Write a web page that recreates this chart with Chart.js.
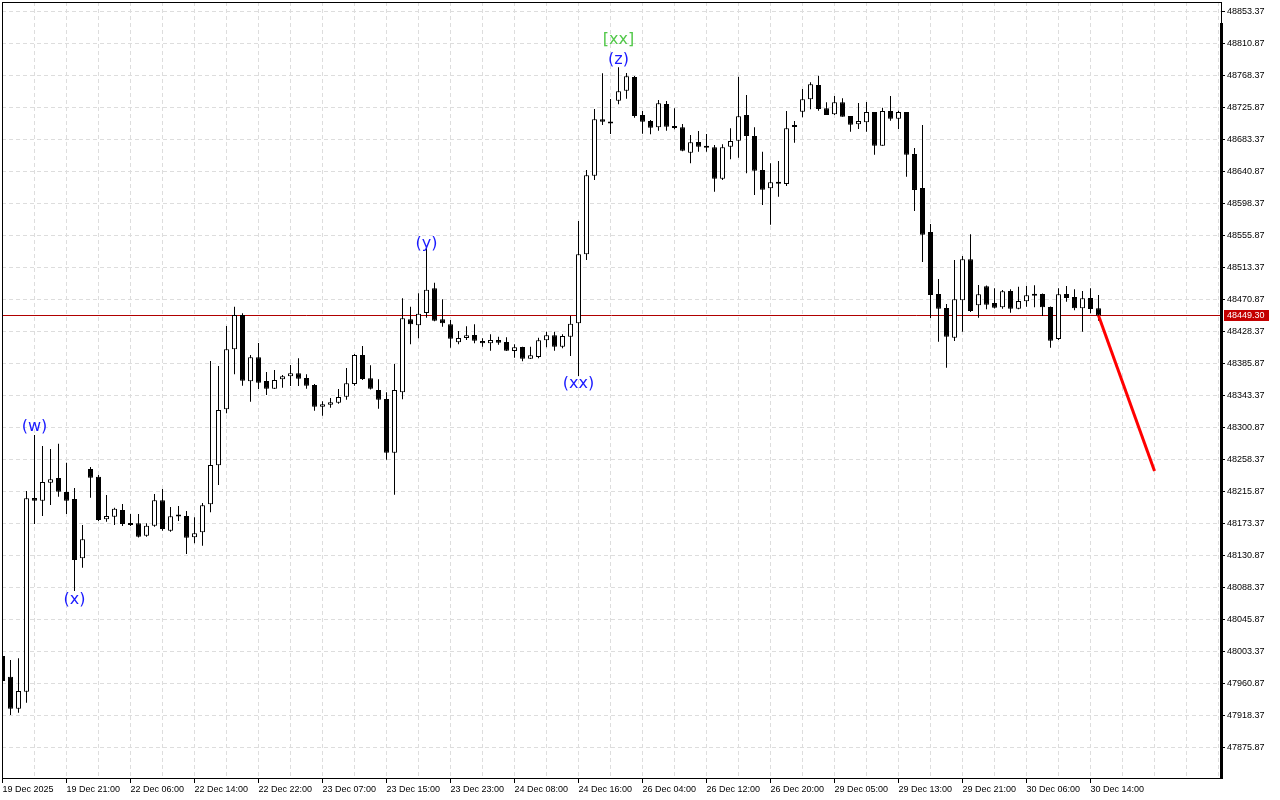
<!DOCTYPE html>
<html>
<head>
<meta charset="utf-8">
<script src="https://cdn.jsdelivr.net/npm/chart.js@4.4.0/dist/chart.umd.min.js"></script>
<style>
html,body{margin:0;padding:0;background:#ffffff;overflow:hidden}
canvas{display:block}
</style>
</head>
<body>
<canvas id="c" width="1280" height="800"></canvas>
<script>
// ---- data ----
const timeLabels = ["19 Dec 2025","19 Dec 21:00","22 Dec 06:00","22 Dec 14:00","22 Dec 22:00","23 Dec 07:00","23 Dec 15:00","23 Dec 23:00","24 Dec 08:00","24 Dec 16:00","26 Dec 04:00","26 Dec 12:00","26 Dec 20:00","29 Dec 05:00","29 Dec 13:00","29 Dec 21:00","30 Dec 06:00","30 Dec 14:00"];

const opens = [47997.2,47969.7,47927.2,47949.7,48207.0,48203.4,48227.3,48233.6,48215.0,48205.7,
48126.9,48245.5,48235.3,48178.7,48182.2,48191.1,48173.4,48173.4,48156.9,48170.2,
48203.9,48163.6,48183.1,48183.1,48154.8,48161.4,48198.6,48250.4,48324.8,48404.5,
48450.0,48362.0,48394.0,48362.4,48352.2,48364.6,48368.6,48372.6,48366.4,48357.1,
48328.3,48330.9,48333.6,48341.5,48358.4,48396.9,48366.0,48350.4,48338.5,48267.2,
48347.4,48444.3,48436.4,48452.7,48485.5,48444.3,48437.7,48413.8,48419.5,48423.5,
48415.5,48412.5,48416.8,48414.2,48402.2,48407.5,48392.0,48394.3,48416.4,48423.1,
48407.9,48421.2,48439.0,48530.7,48635.0,48710.0,48705.0,48734.7,48747.9,48766.1,
48715.7,48707.7,48699.3,48730.3,48701.1,48699.3,48665.6,48679.8,48674.5,48672.8,
48631.1,48673.6,48681.5,48715.7,48687.8,48642.6,48618.3,48624.4,48624.0,48699.7,
48720.0,48736.5,48755.5,48724.6,48716.6,48732.5,48714.3,48703.3,48706.0,48719.6,
48674.9,48721.0,48710.8,48719.6,48663.9,48618.7,48560.3,48477.9,48459.3,48419.9,
48469.6,48524.0,48462.9,48488.2,48466.0,48460.3,48481.9,48458.4,48468.2,48478.3,
48477.9,48460.7,48418.2,48477.9,48473.9,48458.9,48472.6,48458.9];

const highs = [48001.1,47991.8,47994.1,48216.3,48290.7,48276.1,48272.1,48279.1,48253.9,48220.3,
48171.1,48248.2,48237.5,48211.0,48194.1,48199.0,48185.8,48185.8,48173.4,48212.3,
48218.9,48195.0,48196.4,48189.7,48181.4,48200.3,48388.9,48382.3,48435.4,48461.1,
48452.3,48396.9,48412.9,48374.3,48377.0,48370.4,48383.6,48392.5,48371.3,48358.4,
48335.4,48339.8,48351.8,48379.6,48398.2,48408.9,48383.2,48364.6,48347.4,48385.0,
48472.2,48461.1,48478.9,48540.0,48492.9,48470.9,48443.4,48428.8,48435.0,48437.7,
48419.1,48424.4,48421.2,48420.4,48411.1,48407.9,48407.9,48419.9,48427.9,48427.9,
48424.4,48449.1,48574.9,48642.6,48723.6,48771.1,48736.9,48779.0,48771.4,48767.5,
48721.0,48709.0,48735.6,48734.3,48724.6,48703.7,48689.1,48694.4,48690.4,48675.8,
48676.8,48698.0,48766.5,48742.2,48699.3,48666.9,48651.5,48654.6,48721.0,48707.7,
48750.2,48759.1,48767.9,48732.5,48740.9,48737.8,48714.3,48731.6,48732.9,48719.6,
48725.4,48740.9,48721.4,48719.6,48671.8,48702.4,48570.9,48497.9,48464.6,48523.1,
48528.4,48557.2,48489.9,48489.2,48485.5,48483.2,48484.2,48487.6,48488.6,48489.5,
48478.6,48461.3,48485.5,48488.6,48484.2,48481.9,48485.5,48476.6];

const lows = [47960.0,47918.8,47921.8,47935.1,48172.5,48183.1,48197.7,48208.7,48185.8,48083.5,
48114.4,48207.4,48176.5,48175.5,48171.1,48169.8,48169.8,48154.5,48155.6,48168.9,
48163.6,48162.2,48176.5,48132.6,48146.8,48143.6,48188.0,48224.3,48319.5,48371.3,
48356.1,48334.9,48351.8,48343.8,48351.8,48353.5,48355.7,48355.7,48352.2,48322.9,
48316.3,48326.9,48332.2,48337.6,48356.1,48363.7,48351.1,48325.6,48257.9,48211.4,
48338.1,48411.1,48419.1,48446.5,48441.7,48434.5,48406.6,48411.1,48416.8,48412.5,
48407.9,48402.6,48410.6,48402.2,48393.3,48388.6,48391.6,48392.5,48407.1,48402.6,
48405.8,48395.6,48369.0,48523.1,48629.3,48702.4,48690.4,48729.9,48737.3,48712.1,
48690.8,48690.0,48694.8,48694.8,48696.7,48667.5,48651.5,48666.9,48666.9,48613.8,
48629.3,48656.8,48659.0,48638.2,48609.4,48596.1,48570.0,48607.2,48621.4,48678.9,
48712.6,48723.2,48721.4,48715.7,48715.7,48713.4,48693.5,48697.1,48693.5,48662.9,
48674.9,48708.1,48697.1,48633.7,48588.2,48520.4,48446.1,48414.6,48380.1,48415.5,
48427.9,48454.0,48446.5,48457.6,48458.7,48458.4,48453.1,48457.6,48461.1,48460.3,
48448.7,48406.6,48416.8,48467.7,48456.3,48427.9,48452.3,48442.5];

const closes = [47963.9,47927.2,47950.7,48206.6,48203.4,48228.2,48231.8,48215.4,48203.4,48124.6,
48152.1,48234.0,48177.8,48183.1,48192.8,48172.5,48171.1,48155.6,48170.2,48203.9,
48165.8,48182.7,48182.4,48154.3,48160.1,48197.3,48250.8,48323.9,48404.5,48450.0,
48362.8,48393.9,48360.1,48352.2,48363.7,48368.6,48372.6,48365.4,48356.1,48328.3,
48331.4,48334.1,48341.1,48359.3,48396.9,48365.0,48352.2,48337.6,48267.2,48350.4,
48445.7,48437.7,48451.8,48483.6,48442.5,48439.0,48418.6,48419.5,48423.1,48415.9,
48412.5,48416.8,48413.3,48402.6,48407.1,48392.0,48396.5,48416.4,48423.1,48407.9,
48422.1,48438.5,48530.7,48635.6,48710.0,48706.8,48704.4,48747.1,48767.1,48714.3,
48706.8,48698.8,48731.2,48700.1,48698.4,48668.3,48679.4,48673.6,48672.2,48631.1,
48672.8,48681.1,48713.9,48687.8,48641.7,48616.5,48626.3,48625.4,48698.0,48700.4,
48736.5,48756.4,48723.6,48715.7,48732.5,48713.4,48702.8,48707.7,48719.6,48674.9,
48721.0,48710.8,48719.6,48662.9,48616.1,48556.7,48476.6,48458.4,48421.2,48470.9,
48524.0,48455.4,48477.5,48463.7,48459.7,48481.5,48458.4,48468.6,48476.2,48475.7,
48460.3,48415.9,48477.5,48472.6,48458.9,48472.2,48458.0,48449.3];

const yTickValues = [47875.87,47918.37,47960.87,48003.37,48045.87,48088.37,48130.87,48173.37,
48215.87,48258.37,48300.87,48343.37,48385.87,48428.37,48470.87,48513.37,48555.87,48598.37,
48640.87,48683.37,48725.87,48768.37,48810.87,48853.37];

const forecastIdx = [137, 144];
const forecastVal = [48449.3, 48242.8];

const waveIdx   = [4, 9, 53, 72, 77, 77];
const waveText  = ["(w)", "(x)", "(y)", "(xx)", "(z)", "[xx]"];
const wavePrice = [48301.3, 48071.5, 48544.3, 48358.4, 48789.1, 48815.9];
const waveMajor = [false, false, false, false, false, true];

const lastPrice = closes[closes.length - 1];

// ---- build datasets ----
const wickData = highs.map((h, i) => ({x: i, y: [lows[i], h]}));
const bodyData = opens.map((o, i) => ({x: i, y: [o, closes[i]]}));
const bodyColors = opens.map((o, i) => closes[i] > o ? '#ffffff' : '#000000');
const forecastData = forecastIdx.map((x, k) => ({x: x, y: forecastVal[k]}));

const tickFont = {family: "'Liberation Sans', Arial, sans-serif", size: 9};

function hasLabel(v) { return v % 8 === 0 && !!timeLabels[v / 8]; }

const overlay = {
  id: 'overlay',
  beforeDatasetsDraw(chart) {
    const {ctx, chartArea: a, scales: {y}} = chart;
    const py = Math.floor(y.getPixelForValue(lastPrice)) + 0.5;
    ctx.save();
    ctx.strokeStyle = '#b00000';
    ctx.lineWidth = 1;
    ctx.beginPath();
    ctx.moveTo(a.left, py);
    ctx.lineTo(a.right, py);
    ctx.stroke();
    ctx.restore();
  },
  afterDatasetsDraw(chart) {
    const {ctx, scales: {x, y}} = chart;
    ctx.save();
    ctx.font = "16px 'DejaVu Sans', sans-serif";
    ctx.textAlign = 'center';
    ctx.textBaseline = 'middle';
    waveText.forEach((t, k) => {
      ctx.fillStyle = waveMajor[k] ? '#52c84a' : '#1a1aff';
      ctx.fillText(t, x.getPixelForValue(waveIdx[k]), y.getPixelForValue(wavePrice[k]));
    });
    ctx.restore();
  },
  afterDraw(chart) {
    const {ctx, chartArea: a, scales: {y}} = chart;
    ctx.save();
    ctx.strokeStyle = '#000';
    ctx.lineWidth = 1;
    ctx.strokeRect(a.left + 0.5, a.top + 0.5, a.right - a.left, a.bottom - a.top - 1);
    ctx.fillStyle = '#000';
    ctx.fillRect(a.right - 1, a.top + 21, 3, a.bottom - a.top - 21);
    const py = Math.floor(y.getPixelForValue(lastPrice));
    ctx.fillStyle = '#c40000';
    ctx.fillRect(a.right + 3, py - 5, 45, 11);
    ctx.fillStyle = '#ffffff';
    ctx.font = "9px 'Liberation Sans', Arial, sans-serif";
    ctx.textAlign = 'left';
    ctx.textBaseline = 'middle';
    ctx.fillText(lastPrice.toFixed(2), a.right + 6, py + 0.5);
    ctx.restore();
  }
};

new Chart(document.getElementById('c'), {
  type: 'bar',
  data: {
    datasets: [
      {
        type: 'line',
        data: forecastData,
        borderColor: '#ff0000',
        borderWidth: 3,
        pointRadius: 0,
        fill: false,
        order: -1
      },
      {
        data: bodyData,
        backgroundColor: bodyColors,
        borderColor: '#000000',
        borderWidth: 1,
        borderSkipped: false,
        barThickness: 5,
        maxBarThickness: 5,
        minBarLength: 2,
        grouped: false,
        inflateAmount: 0,
        order: 0
      },
      {
        data: wickData,
        backgroundColor: '#000000',
        borderWidth: 0,
        barThickness: 1,
        maxBarThickness: 1,
        grouped: false,
        inflateAmount: 0,
        order: 1
      }
    ]
  },
  options: {
    responsive: false,
    animation: false,
    devicePixelRatio: 1,
    layout: {padding: {left: 2, top: 2, right: 0, bottom: 0}},
    plugins: {legend: {display: false}, tooltip: {enabled: false}},
    scales: {
      x: {
        type: 'linear',
        min: -0.0625,
        max: 152.3125,
        offset: false,
        afterFit(s) { s.height = 21; s.paddingLeft = 0; s.paddingRight = 0; },
        afterBuildTicks(s) {
          const t = [];
          for (let v = 0; v <= 152; v += 4) t.push({value: v});
          s.ticks = t;
        },
        grid: {
          color: '#dddddd',
          lineWidth: 1,
          offset: false,
          drawTicks: true,
          tickLength: 4,
          tickColor: (c) => (c.tick && hasLabel(c.tick.value)) ? '#000000' : 'rgba(0,0,0,0)',
          tickBorderDash: []
        },
        border: {display: false, dash: [4, 3]},
        ticks: {
          autoSkip: false,
          maxRotation: 0,
          minRotation: 0,
          align: 'start',
          padding: 1,
          color: '#000000',
          font: tickFont,
          callback: (v) => hasLabel(v) ? timeLabels[v / 8] : ''
        }
      },
      y: {
        type: 'linear',
        position: 'right',
        min: 47833.77,
        max: 48865.72,
        afterFit(s) { s.width = 59; s.paddingTop = 0; s.paddingBottom = 0; },
        afterBuildTicks(s) { s.ticks = yTickValues.map(v => ({value: v})); },
        grid: {
          color: '#dddddd',
          lineWidth: 1,
          drawTicks: true,
          tickLength: 4,
          tickColor: '#000000',
          tickBorderDash: []
        },
        border: {display: false, dash: [4, 3]},
        ticks: {
          autoSkip: false,
          padding: 2,
          color: '#000000',
          font: tickFont,
          callback: (v) => Number(v).toFixed(2)
        }
      }
    }
  },
  plugins: [overlay]
});
</script>
</body>
</html>
